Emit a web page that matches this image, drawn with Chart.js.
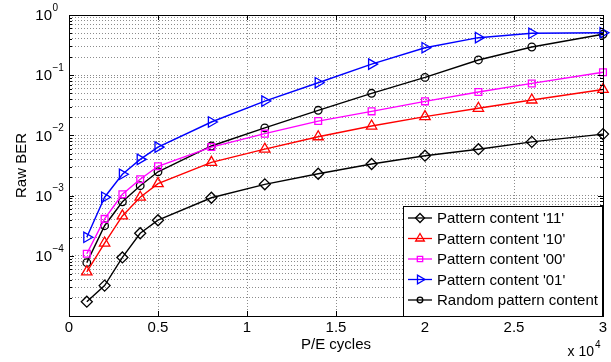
<!DOCTYPE html>
<html>
<head>
<meta charset="utf-8">
<script src="https://cdn.jsdelivr.net/npm/chart.js@4/dist/chart.umd.min.js"></script>
<style>
  html, body { margin: 0; padding: 0; background: #fff; }
  #wrap { width: 611px; height: 362px; }
</style>
</head>
<body>
<div id="wrap"><canvas id="ber"></canvas></div>
<script>
// P/E cycles (x axis)
var peCycles = [1000, 2000, 3000, 4000, 5000, 8000, 11000, 14000, 17000, 20000, 23000, 26000, 30000];

// raw BER per pattern content
var ber11 = [1.73e-5, 3.2e-5, 9.4e-5, 2.37e-4, 3.9e-4, 9.2e-4, 1.54e-3, 2.31e-3, 3.35e-3, 4.6e-3, 5.9e-3, 7.8e-3, 1.05e-2];
var ber10 = [5.4e-5, 1.63e-4, 4.6e-4, 9.4e-4, 1.58e-3, 3.57e-3, 5.9e-3, 9.5e-3, 1.43e-2, 2.05e-2, 2.82e-2, 3.87e-2, 5.8e-2];
var ber00 = [1.08e-4, 4.1e-4, 1.05e-3, 1.87e-3, 3.07e-3, 6.4e-3, 1.07e-2, 1.73e-2, 2.51e-2, 3.68e-2, 5.26e-2, 7.3e-2, 1.12e-1];
var ber01 = [2.03e-4, 9.4e-4, 2.26e-3, 4.0e-3, 6.4e-3, 1.67e-2, 3.72e-2, 7.5e-2, 0.153, 0.286, 0.42, 0.497, 0.508];
var berRandom = [7.7e-5, 3.16e-4, 7.9e-4, 1.46e-3, 2.49e-3, 6.67e-3, 1.33e-2, 2.61e-2, 5.0e-2, 9.2e-2, 0.179, 0.294, 0.478];

var seriesLabels = ["Pattern content '11'", "Pattern content '10'", "Pattern content '00'", "Pattern content '01'", "Random pattern content"];

// axis ticks
var xTicks = [0, 5000, 10000, 15000, 20000, 25000, 30000];
var yExponents = [-5, -4, -3, -2, -1, 0];
var yLabelExponents = [-4, -3, -2, -1, 0];   // 10^-5 is not labelled in the figure

var FONT = "'Liberation Sans', Arial, Helvetica, sans-serif";

function pts(ys) {
  return peCycles.map(function(x, i) { return {x: x, y: ys[i]}; });
}

function series(label, ys, color, style, radius, rotation) {
  return {
    label: label,
    data: pts(ys),
    borderColor: color,
    borderWidth: 1.4,
    pointStyle: style,
    pointRadius: radius,
    pointHoverRadius: radius,
    pointRotation: rotation || 0,
    pointBorderColor: color,
    pointBackgroundColor: 'rgba(0,0,0,0)',
    pointBorderWidth: 1.3,
    tension: 0,
    clip: false
  };
}

// all log gridlines: 1..9 x 10^e
var yTickValues = [];
yExponents.forEach(function(e) {
  for (var s = 1; s <= 9; s++) {
    if (e === 0 && s > 1) break;
    yTickValues.push(s * Math.pow(10, e));
  }
});

var frame = {
  id: 'frame',
  afterDraw: function(chart) {
    var ctx = chart.ctx, a = chart.chartArea;
    var xs = chart.scales.x, ys = chart.scales.y;
    ctx.save();
    ctx.strokeStyle = '#000';
    ctx.lineWidth = 1;
    ctx.strokeRect(Math.round(a.left) + 0.5, Math.round(a.top) + 0.5,
      Math.round(a.right - a.left), Math.round(a.bottom - a.top));

    // inward tick marks
    ctx.beginPath();
    xTicks.forEach(function(v) {
      var px = Math.round(xs.getPixelForValue(v)) + 0.5;
      ctx.moveTo(px, a.bottom); ctx.lineTo(px, a.bottom - 5);
      ctx.moveTo(px, a.top); ctx.lineTo(px, a.top + 5);
    });
    yTickValues.forEach(function(v) {
      var py = Math.round(ys.getPixelForValue(v)) + 0.5;
      var major = Math.abs(Math.log10(v) - Math.round(Math.log10(v))) < 1e-9;
      var len = major ? 5 : 3;
      ctx.moveTo(a.left, py); ctx.lineTo(a.left + len, py);
      ctx.moveTo(a.right, py); ctx.lineTo(a.right - len, py);
    });
    ctx.stroke();

    // y tick labels 10^e
    ctx.fillStyle = '#000';
    ctx.textBaseline = 'middle';
    yLabelExponents.forEach(function(e) {
      var py = ys.getPixelForValue(Math.pow(10, e));
      ctx.font = '15px ' + FONT;
      ctx.textAlign = 'right';
      ctx.fillText('10', 52, py + 1);
      ctx.font = '10px ' + FONT;
      ctx.textAlign = 'left';
      ctx.fillText(e === 0 ? '0' : '\u2212' + (-e), 52.5, py - 7);
    });

    // x 10^4 multiplier
    ctx.font = '14px ' + FONT;
    ctx.textAlign = 'right';
    ctx.fillText('x 10', 594, 352);
    ctx.font = '10px ' + FONT;
    ctx.textAlign = 'left';
    ctx.fillText('4', 595, 345);

    // legend box (MATLAB style: line + marker)
    var lx = 403, ly = 206, lw = 199, lh = 110;
    ctx.fillStyle = '#fff';
    ctx.fillRect(lx, ly, lw, lh);
    ctx.strokeStyle = '#000';
    ctx.lineWidth = 1;
    ctx.strokeRect(lx + 0.5, ly + 0.5, lw, lh);
    chart.data.datasets.forEach(function(ds, i) {
      var cy = 218 + i * 20.5;
      ctx.strokeStyle = ds.borderColor;
      ctx.lineWidth = 1.3;
      ctx.beginPath();
      ctx.moveTo(408, cy); ctx.lineTo(432, cy);
      ctx.stroke();
      ctx.fillStyle = 'rgba(0,0,0,0)';
      Chart.helpers.drawPoint(ctx, {
        pointStyle: ds.pointStyle,
        rotation: ds.pointRotation,
        radius: ds.pointRadius - 1,
        borderWidth: 1.2
      }, 420, cy);
      ctx.fillStyle = '#000';
      ctx.font = '15px ' + FONT;
      ctx.textAlign = 'left';
      ctx.textBaseline = 'middle';
      ctx.fillText(ds.label, 437, cy + 1);
    });
    ctx.restore();
  }
};

new Chart(document.getElementById('ber'), {
  type: 'line',
  data: {
    datasets: [
      series(seriesLabels[0], ber11, '#000000', 'rectRot', 5.5),
      series(seriesLabels[1], ber10, '#ff0000', 'triangle', 6),
      series(seriesLabels[2], ber00, '#ff00ff', 'rect', 4.8),
      series(seriesLabels[3], ber01, '#0000ff', 'triangle', 6, 90),
      series(seriesLabels[4], berRandom, '#000000', 'circle', 3.8)
    ]
  },
  options: {
    responsive: true,
    maintainAspectRatio: false,
    animation: false,
    events: [],
    layout: { padding: { top: 15, right: 8, left: 0, bottom: 0 } },
    plugins: { legend: { display: false }, tooltip: { enabled: false } },
    scales: {
      x: {
        type: 'linear',
        min: 0,
        max: 30000,
        afterBuildTicks: function(s) { s.ticks = xTicks.map(function(v) { return {value: v}; }); },
        afterFit: function(s) { s.height = 46; },
        ticks: {
          color: '#000',
          font: { family: FONT, size: 15 },
          padding: 3,
          maxRotation: 0,
          callback: function(v) { return String(v / 10000); }
        },
        grid: { color: 'rgba(0,0,0,0.45)', lineWidth: 1, drawTicks: false },
        border: { display: false, dash: [1, 2] },
        title: {
          display: true,
          text: 'P/E cycles',
          color: '#000',
          font: { family: FONT, size: 15 },
          padding: { top: 0, bottom: 8 }
        }
      },
      y: {
        type: 'logarithmic',
        min: 1e-5,
        max: 1,
        afterBuildTicks: function(s) { s.ticks = yTickValues.map(function(v) { return {value: v}; }); },
        afterFit: function(s) { s.width = 69; },
        ticks: { display: false },
        grid: { color: 'rgba(0,0,0,0.45)', lineWidth: 1, drawTicks: false },
        border: { display: false, dash: [1, 2] },
        title: {
          display: true,
          text: 'Raw BER',
          color: '#000',
          font: { family: FONT, size: 15 },
          padding: { top: 12.5, bottom: 0 }
        }
      }
    }
  },
  plugins: [frame]
});
</script>
</body>
</html>
